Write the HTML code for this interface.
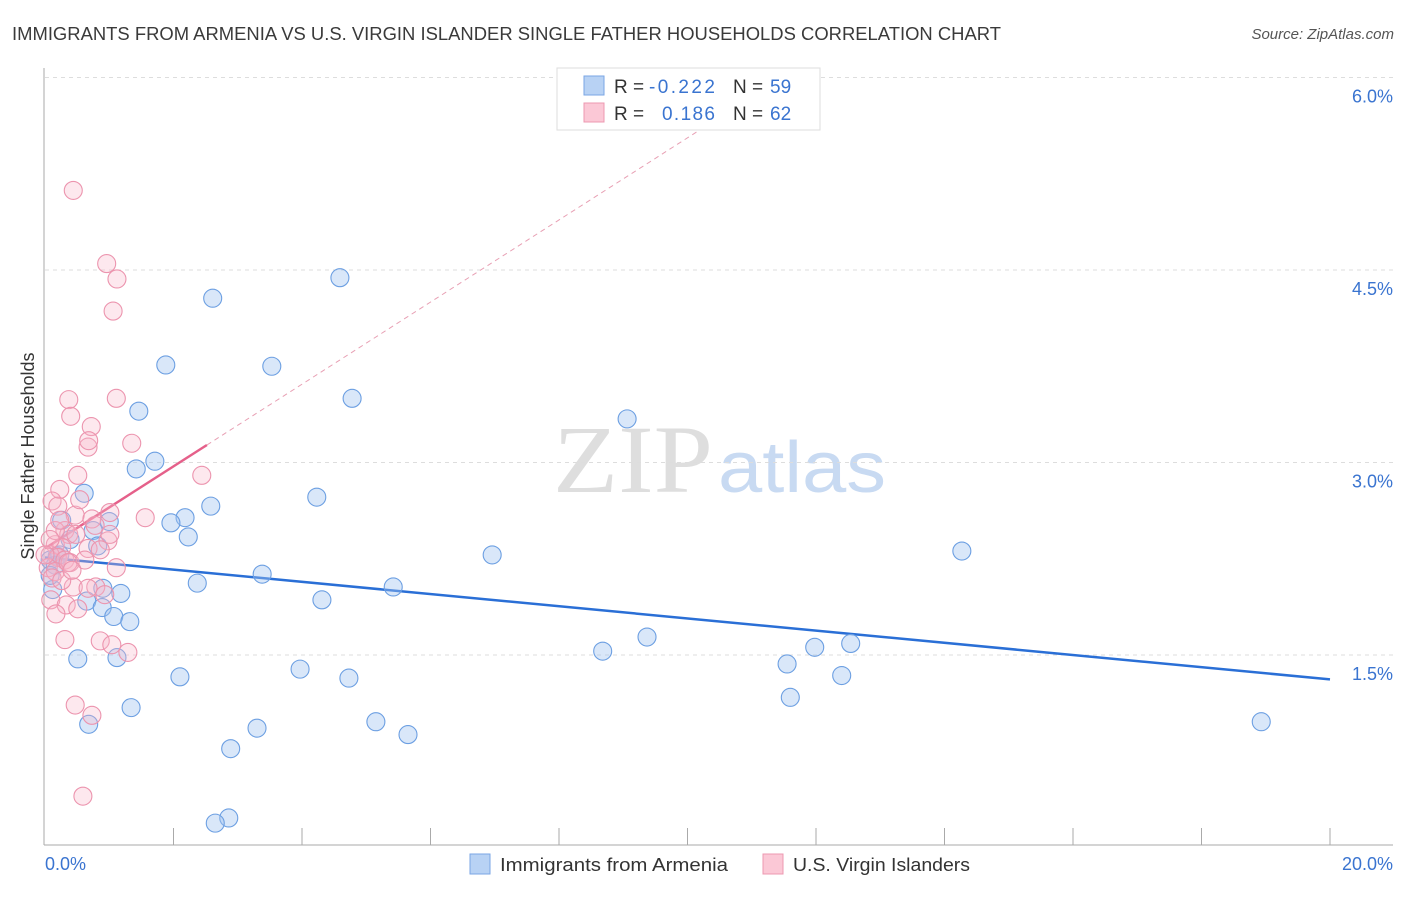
<!DOCTYPE html>
<html><head><meta charset="utf-8"><style>
body{margin:0;background:#fff;font-family:"Liberation Sans",sans-serif;}
svg text{font-family:"Liberation Sans",sans-serif;}
</style></head><body>
<svg id="chart" width="1406" height="892" viewBox="0 0 1406 892" xmlns="http://www.w3.org/2000/svg">
<text x="12" y="40" font-size="18" fill="#3a3a3a" textLength="989" lengthAdjust="spacingAndGlyphs">IMMIGRANTS FROM ARMENIA VS U.S. VIRGIN ISLANDER SINGLE FATHER HOUSEHOLDS CORRELATION CHART</text>
<text x="1394" y="39" font-size="15" fill="#555" font-style="italic" text-anchor="end">Source: ZipAtlas.com</text>
<g>
<text x="553" y="492" font-size="96" fill="#dedede" style="font-family:'Liberation Serif',serif" textLength="160" lengthAdjust="spacingAndGlyphs">ZIP</text>
<text x="718" y="492" font-size="72" fill="#c8daf2" textLength="168" lengthAdjust="spacingAndGlyphs">atlas</text>
</g>
<g id="grid"></g>
<g id="axes"></g>
<g id="trend"></g>
<g id="points"></g>
<text transform="translate(34,456) rotate(-90)" font-size="18" fill="#333" text-anchor="middle">Single Father Households</text>
<g>
<rect x="557" y="68" width="263" height="62" fill="#fff" stroke="#ddd"/>
<rect x="584" y="76" width="20" height="19" fill="#b8d2f4" stroke="#7aa6e4"/>
<rect x="584" y="103" width="20" height="19" fill="#fbc8d6" stroke="#ec98b0"/>
<text x="614" y="93" font-size="19" fill="#333">R =</text><text x="649" y="93" font-size="19" fill="#3a74d0" textLength="66">-0.222</text>
<text x="733" y="93" font-size="19" fill="#333">N =</text><text x="770" y="93" font-size="19" fill="#3a74d0">59</text>
<text x="614" y="120" font-size="19" fill="#333">R =</text><text x="662" y="120" font-size="19" fill="#3a74d0" textLength="53">0.186</text>
<text x="733" y="120" font-size="19" fill="#333">N =</text><text x="770" y="120" font-size="19" fill="#3a74d0">62</text>
</g>
<g>
<rect x="470" y="854" width="20" height="20" fill="#b8d2f4" stroke="#7aa6e4"/>
<text x="500" y="871" font-size="18" fill="#333" textLength="228" lengthAdjust="spacingAndGlyphs">Immigrants from Armenia</text>
<rect x="763" y="854" width="20" height="20" fill="#fbc8d6" stroke="#ec98b0"/>
<text x="793" y="871" font-size="18" fill="#333" textLength="177" lengthAdjust="spacingAndGlyphs">U.S. Virgin Islanders</text>
</g>
</svg>
<script>
const xTicks=[0,2,4,6,8,10,12,14,16,18,20];
const yTicks=[1.5,3.0,4.5,6.0];
const blueX=[4.59,2.61,1.88,3.53,4.78,1.46,9.06,1.71,1.42,4.23,0.61,2.58,2.18,1.96,1.00,0.26,0.75,2.23,0.82,6.96,14.27,0.19,0.08,0.16,3.38,2.37,5.42,0.90,1.18,0.12,4.31,0.65,0.89,1.07,1.32,9.37,8.68,11.98,12.54,0.51,1.12,11.55,3.97,2.10,4.73,12.40,11.60,1.34,18.93,0.68,5.15,3.30,5.65,2.89,2.86,2.65,0.08,0.23,0.39];
const blueY=[4.44,4.28,3.76,3.75,3.50,3.40,3.34,3.01,2.95,2.73,2.76,2.66,2.57,2.53,2.54,2.55,2.47,2.42,2.35,2.28,2.31,2.27,2.24,2.20,2.13,2.06,2.03,2.02,1.98,2.01,1.93,1.92,1.87,1.80,1.76,1.64,1.53,1.56,1.59,1.47,1.48,1.43,1.39,1.33,1.32,1.34,1.17,1.09,0.98,0.96,0.98,0.93,0.88,0.77,0.23,0.19,2.12,2.28,2.40];
const pinkX=[0.44,0.96,1.12,1.06,0.37,1.11,0.40,0.72,1.35,0.67,0.68,0.51,2.44,0.23,0.11,0.20,1.56,1.01,0.47,0.73,0.31,0.37,0.48,0.98,0.16,0.26,0.67,0.86,0.08,0.20,0.31,0.39,0.05,0.16,1.11,0.11,0.36,0.79,0.44,0.67,0.09,0.33,0.51,0.17,0.86,1.04,0.31,1.29,0.47,0.73,0.59,0.16,0.23,0.54,0.78,0.08,0.00,1.01,0.62,0.93,0.26,0.42];
const pinkY=[5.12,4.55,4.43,4.18,3.49,3.50,3.36,3.28,3.15,3.12,3.17,2.90,2.90,2.79,2.70,2.66,2.57,2.61,2.59,2.56,2.47,2.44,2.44,2.39,2.36,2.34,2.33,2.32,2.28,2.26,2.24,2.22,2.18,2.15,2.18,2.10,2.22,2.03,2.03,2.02,1.93,1.89,1.86,1.82,1.61,1.58,1.62,1.52,1.11,1.03,0.40,2.47,2.55,2.71,2.51,2.40,2.28,2.44,2.24,1.97,2.08,2.16];
const blueTrend=[2.26,-0.0475];   // intercept, slope
const pinkTrend=[2.33,0.32];
const pinkSolidEnd=2.52, pinkDashEnd=10.5;

const X=v=>45+v/20*1285;
const Y=v=>847.5-v/1.5*192.5;
const NS="http://www.w3.org/2000/svg";
function mk(tag,attrs,parent){const e=document.createElementNS(NS,tag);for(const k in attrs)e.setAttribute(k,attrs[k]);parent.appendChild(e);return e;}
const grid=document.getElementById('grid'),axes=document.getElementById('axes'),trend=document.getElementById('trend'),pts=document.getElementById('points');
yTicks.forEach(t=>{
  const l=mk('line',{x1:45,x2:1393,y1:Y(t),y2:Y(t),stroke:'#ddd','stroke-dasharray':'4,4'},grid);
  
  
  const tx=mk('text',{x:1393,y:Y(t)+25,'font-size':18,fill:'#3a74d0','text-anchor':'end'},grid);
  tx.textContent=t.toFixed(1)+'%';
  
  
});
mk('line',{x1:44,x2:44,y1:68,y2:845,stroke:'#aaa'},axes);
mk('line',{x1:44,x2:1393,y1:845,y2:845,stroke:'#aaa'},axes);
xTicks.forEach((t,i)=>{if(i===0)return;
  const l=mk('line',{x1:X(t),x2:X(t),y1:828,y2:845,stroke:'#aaa'},axes);
  
  
});
const xl0=mk('text',{x:45,y:870,'font-size':18,fill:'#3a74d0'},axes);xl0.textContent=xTicks[0].toFixed(1)+'%';


const xl1=mk('text',{x:1393,y:870,'font-size':18,fill:'#3a74d0','text-anchor':'end'},axes);xl1.textContent=xTicks[xTicks.length-1].toFixed(1)+'%';



blueX.forEach((x,i)=>{const c=mk('circle',{cx:X(x),cy:Y(blueY[i]),r:9,fill:'rgba(160,196,240,0.4)',stroke:'#6c9fe2','stroke-width':1.1},pts);
  
  });
pinkX.forEach((x,i)=>{const c=mk('circle',{cx:X(x),cy:Y(pinkY[i]),r:9,fill:'rgba(248,182,202,0.32)',stroke:'#ec94ae','stroke-width':1.1},pts);
  
  });
const bl=mk('line',{x1:X(0),y1:Y(blueTrend[0]),x2:X(20),y2:Y(blueTrend[0]+20*blueTrend[1]),stroke:'#2a6fd6','stroke-width':2.5},trend);


const pd=mk('line',{x1:X(pinkSolidEnd),y1:Y(pinkTrend[0]+pinkSolidEnd*pinkTrend[1]),x2:X(pinkDashEnd),y2:Y(pinkTrend[0]+pinkDashEnd*pinkTrend[1]),stroke:'#e8a0b4','stroke-width':1,'stroke-dasharray':'5,4'},trend);


const pl=mk('line',{x1:X(0),y1:Y(pinkTrend[0]),x2:X(pinkSolidEnd),y2:Y(pinkTrend[0]+pinkSolidEnd*pinkTrend[1]),stroke:'#e5608a','stroke-width':2.5},trend);


</script>
</body></html>
